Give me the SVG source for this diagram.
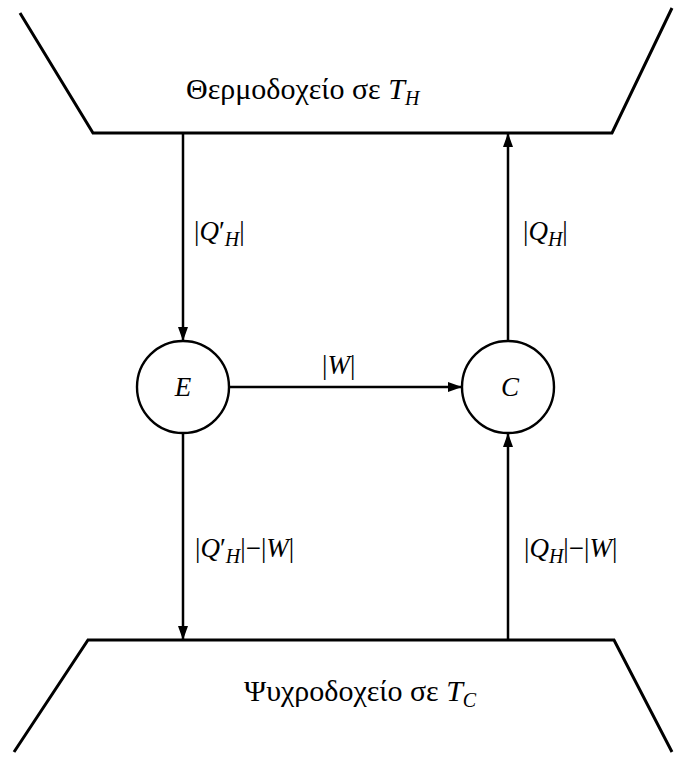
<svg xmlns="http://www.w3.org/2000/svg" width="675" height="765" viewBox="0 0 675 765">
<style>
.ln{stroke:#000;stroke-width:2.5;fill:none}
.res{stroke:#000;stroke-width:3;fill:none;stroke-linejoin:miter}
.nd{stroke:#000;stroke-width:2.4;fill:#fff}
text{font-family:"Liberation Serif","DejaVu Serif",serif;fill:#000}
.t{font-size:30px}
.l{font-size:27px}
.i{font-style:italic}
.s{font-size:20px;font-style:italic}
</style>
<defs>
<marker id="ah" viewBox="0 0 14 10" refX="14" refY="5" markerWidth="14" markerHeight="10" markerUnits="userSpaceOnUse" orient="auto">
<path d="M0,0 L14,5 L0,10 Z" fill="#000"/>
</marker>
</defs>
<g id="hot">
<path class="res" d="M20,13 L93,133 L612,133 L672,8"/>
<text class="t" x="186" y="99">Θερμοδοχείο σε <tspan class="i">T</tspan><tspan class="s" dy="6">H</tspan></text>
</g>
<g id="cold">
<path class="res" d="M14,752 L88,640 L614,640 L672,752"/>
<text class="t" x="244" y="701">Ψυχροδοχείο σε <tspan class="i">T</tspan><tspan class="s" dy="6">C</tspan></text>
</g>
<g id="E">
<circle class="nd" cx="183" cy="387" r="46"/>
<text class="l i" x="183" y="396" text-anchor="middle">E</text>
</g>
<g id="C">
<circle class="nd" cx="508" cy="387" r="46"/>
<text class="l i" x="510" y="396" text-anchor="middle">C</text>
</g>
<g id="connectors">
<line class="ln" x1="183" y1="133" x2="183" y2="341" marker-end="url(#ah)"/>
<line class="ln" x1="508" y1="341" x2="508" y2="133" marker-end="url(#ah)"/>
<line class="ln" x1="229" y1="387" x2="462" y2="387" marker-end="url(#ah)"/>
<line class="ln" x1="183" y1="433" x2="183" y2="640" marker-end="url(#ah)"/>
<line class="ln" x1="508" y1="640" x2="508" y2="433" marker-end="url(#ah)"/>
<text class="l" x="194" y="240">|<tspan class="i">Q</tspan>′<tspan class="s" dy="6">H</tspan><tspan dy="-6">|</tspan></text>
<text class="l" x="523" y="240">|<tspan class="i">Q</tspan><tspan class="s" dy="6">H</tspan><tspan dy="-6">|</tspan></text>
<text class="l" x="322" y="374">|<tspan class="i">W</tspan>|</text>
<text class="l" x="195" y="557">|<tspan class="i">Q</tspan>′<tspan class="s" dy="6">H</tspan><tspan dy="-6">|−|</tspan><tspan class="i">W</tspan>|</text>
<text class="l" x="524" y="557">|<tspan class="i">Q</tspan><tspan class="s" dy="6">H</tspan><tspan dy="-6">|−|</tspan><tspan class="i">W</tspan>|</text>
</g>
</svg>
